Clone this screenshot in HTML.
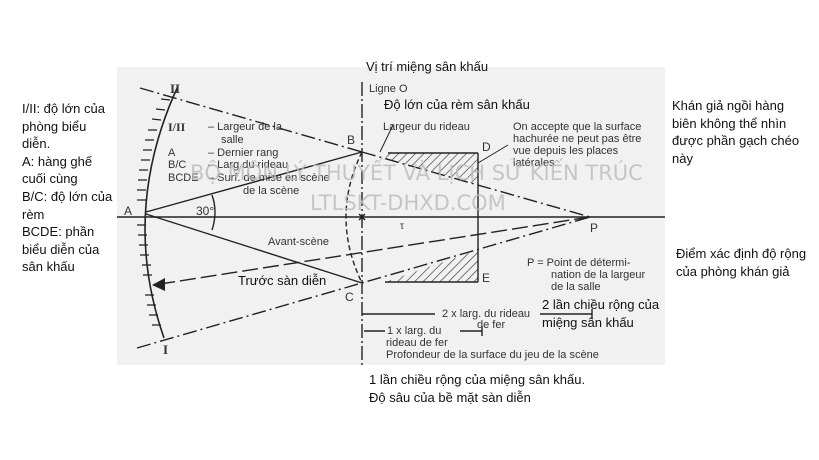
<!DOCTYPE html>
<html><head><meta charset="utf-8"><style>
html,body{margin:0;padding:0;background:#fff;width:819px;height:460px;overflow:hidden;position:relative}
.vn{position:absolute;font-family:"Liberation Sans","DejaVu Sans",sans-serif;font-size:13px;color:#111;line-height:17.6px}
svg{position:absolute;left:0;top:0}
</style></head><body>
<svg width="819" height="460" viewBox="0 0 819 460">
<defs>
<pattern id="h" width="6" height="6" patternUnits="userSpaceOnUse" patternTransform="rotate(45)"><line x1="0" y1="0" x2="0" y2="6" stroke="#333" stroke-width="1.3"/></pattern>
</defs>
<rect x="117" y="67" width="548" height="298" fill="#f1f1f1"/>
<g stroke="#222" fill="none" stroke-width="1.4" font-family="Liberation Sans,sans-serif">
<path d="M178,86 Q120,212 164,338" stroke-width="1.6"/>
<g stroke-width="1.2">
<path d="M170,100 l-9,-1 M165,110 l-9,-1 M161,120 l-9,-1 M157,130 l-9,0 M154,140 l-9,0 M152,150 l-9,0 M150,160 l-9,0 M148,170 l-9,0 M147,180 l-9,0 M146,190 l-9,0 M146,200 l-9,0 M146,225 l-9,0 M147,235 l-9,0 M148,245 l-9,0 M149,255 l-9,0 M151,265 l-9,0 M152,275 l-9,0 M154,295 l-9,0 M156,305 l-9,0 M158,315 l-9,0 M161,325 l-9,0"/>
</g>
<line x1="117" y1="217" x2="665" y2="217"/>
<line x1="362" y1="82" x2="362" y2="365" stroke-dasharray="14,3,2,3"/>
<path d="M362,152 Q330,217 362,283" stroke-dasharray="5,3"/>
<line x1="140" y1="88" x2="362" y2="152" stroke-dasharray="14,4,2,4"/>
<line x1="362" y1="152" x2="590" y2="217" stroke-dasharray="14,4,2,4"/>
<line x1="146" y1="212" x2="362" y2="152"/>
<line x1="146" y1="214" x2="362" y2="283"/>
<line x1="137" y1="348" x2="590" y2="217" stroke-dasharray="14,4,2,4"/>
<line x1="590" y1="217" x2="160" y2="284" stroke-dasharray="16,5"/>
<polygon points="152,285 165,278 165,291" fill="#222" stroke="none"/>
<path d="M212,195 Q218,212 212,230"/>
<polygon points="386,153 478,153 478,185 386,159" fill="url(#h)" stroke="none"/>
<polygon points="385,282 478,282 478,250" fill="url(#h)" stroke="none"/>
<line x1="388" y1="153" x2="478" y2="153"/>
<line x1="478" y1="153" x2="478" y2="282"/>
<line x1="385" y1="282" x2="478" y2="282"/>
<line x1="393" y1="125" x2="380" y2="152" stroke-width="1"/>
<line x1="508" y1="145" x2="478" y2="163" stroke-width="1"/>
<line x1="362" y1="314" x2="435" y2="314"/>
<line x1="540" y1="314" x2="592" y2="314"/>
<line x1="592" y1="309" x2="592" y2="319"/>
<line x1="364" y1="331" x2="385" y2="331"/>
<line x1="460" y1="331" x2="482" y2="331"/>
<line x1="482" y1="326" x2="482" y2="336"/>
<line x1="365" y1="214" x2="359" y2="220"/><line x1="359" y1="214" x2="365" y2="220"/>
</g>
<g font-family="Liberation Sans,sans-serif" font-size="11" fill="#333">
<text x="170" y="93" font-family="Liberation Serif,serif" font-size="13" font-weight="bold">II</text>
<text x="163" y="354" font-family="Liberation Serif,serif" font-size="13" font-weight="bold">I</text>
<text x="168" y="131" font-family="Liberation Serif,serif" font-size="12" font-weight="bold">I/II</text>
<text x="208" y="130">–  Largeur de la</text><text x="221" y="143">salle</text>
<text x="168" y="156">A</text><text x="208" y="156">–  Dernier rang</text>
<text x="168" y="168">B/C</text><text x="208" y="168">–  Larg du rideau</text>
<text x="168" y="181">BCDE</text><text x="208" y="181">–  Surf. de mise en scène</text>
<text x="243" y="194">de la scène</text>
<text x="124" y="215" font-size="12">A</text>
<text x="196" y="215" font-size="12">30°</text>
<text x="347" y="144" font-size="12">B</text>
<text x="345" y="301" font-size="12">C</text>
<text x="482" y="151" font-size="12">D</text>
<text x="482" y="282" font-size="12">E</text>
<text x="590" y="232" font-size="12">P</text>
<text x="369" y="92">Ligne O</text>
<text x="383" y="130">Largeur du rideau</text>
<text x="513" y="130">On accepte que la surface</text>
<text x="513" y="142">hachurée ne peut pas être</text>
<text x="513" y="154">vue depuis les places</text>
<text x="513" y="166">latérales</text>
<text x="400" y="229" font-size="10">τ</text>
<text x="268" y="245">Avant-scène</text>
<text x="527" y="266">P = Point de détermi-</text>
<text x="551" y="278">nation de la largeur</text>
<text x="551" y="290">de la salle</text>
<text x="442" y="317">2 x larg. du rideau</text>
<text x="477" y="328">de fer</text>
<text x="387" y="334">1 x larg. du</text>
<text x="386" y="346">rideau de fer</text>
<text x="386" y="358">Profondeur de la surface du jeu de la scène</text>
</g>
<g font-family="DejaVu Sans,sans-serif" font-size="21" fill="#bbb" opacity="0.8">
<text x="190" y="180">BỘ MÔN LÝ THUYẾT VÀ LỊCH SỬ KIẾN TRÚC</text>
<text x="310" y="210">LTLSKT-DHXD.COM</text>
</g>
</svg>
<div class="vn" style="left:22px;top:100px">I/II: độ lớn của<br>phòng biểu<br>diễn.<br>A: hàng ghế<br>cuối cùng<br>B/C: độ lớn của<br>rèm<br>BCDE: phần<br>biểu diễn của<br>sân khấu</div>
<div class="vn" style="left:366px;top:58px">Vị trí miệng sân khấu</div>
<div class="vn" style="left:384px;top:96px">Độ lớn của rèm sân khấu</div>
<div class="vn" style="left:672px;top:97px">Khán giả ngồi hàng<br>biên không thể nhìn<br>được phần gạch chéo<br>này</div>
<div class="vn" style="left:676px;top:245px">Điểm xác định độ rộng<br>của phòng khán giả</div>
<div class="vn" style="left:238px;top:272px">Trước sàn diễn</div>
<div class="vn" style="left:542px;top:296px">2 lần chiều rộng của<br>miệng sân khấu</div>
<div class="vn" style="left:369px;top:371px">1 lần chiều rộng của miệng sân khấu.<br>Độ sâu của bề mặt sàn diễn</div>
</body></html>
